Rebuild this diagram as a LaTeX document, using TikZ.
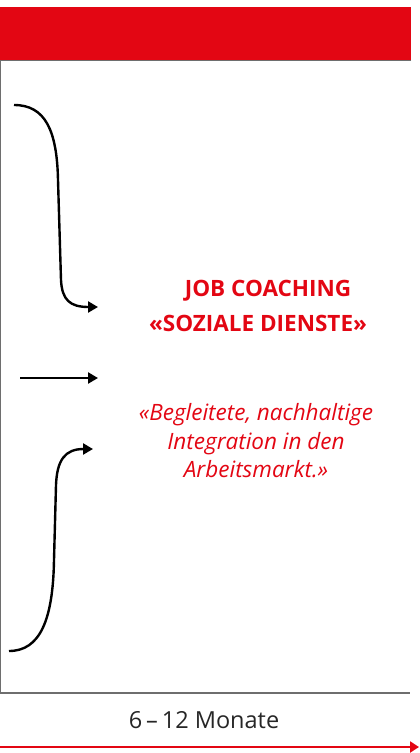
\documentclass[tikz,border=0pt]{standalone}
\usepackage{fontspec}
\setmainfont{Open Sans}
\usetikzlibrary{arrows.meta}
\definecolor{brandred}{HTML}{E30613}
\definecolor{framegray}{HTML}{6E6E6E}
\tikzset{
  flow/.style={line width=2.4pt,-{Triangle[length=10pt,width=11pt]}},
  frame/.style={draw=framegray,line width=1.2pt},
  titletext/.style={text=brandred,font=\fontsize{22.5}{35}\selectfont\bfseries,align=center},
  quotetext/.style={text=brandred,font=\fontsize{22.5}{28.5}\selectfont\itshape,align=center},
  durtext/.style={text=black!85,font=\fontsize{23.5}{26}\selectfont},
}
\begin{document}
\begin{tikzpicture}[x=1pt,y=-1pt]
\useasboundingbox (0,0) rectangle (420,753);
% header bar
\fill[brandred] (0,7) rectangle (411,60);
% frame
\draw[frame] (411,60.5) -- (0.6,60.5) -- (0.6,693) -- (410,693);
% named points
\coordinate (a1) at (14,105);
\coordinate (a1e) at (98,307);
\coordinate (m1) at (20,378);
\coordinate (m1e) at (98,378);
\coordinate (b1) at (9,651);
\coordinate (b1e) at (93,449);
% arrows
\draw[flow] (a1) .. controls (45,105) and (57,130) .. (58,180) -- (61,280) .. controls (62,300) and (70,307) .. (a1e);
\draw[flow] (m1) -- (m1e);
\draw[flow] (b1) .. controls (40,651) and (53,620) .. (54,560) -- (56,485) .. controls (57,460) and (65,449) .. (b1e);
% texts
\node[titletext] (title) at (258,306) {\hspace*{20pt}JOB COACHING\\«SOZIALE DIENSTE»};
\node[quotetext] (quote) at (256,441) {«Begleitete, nachhaltige\\Integration in den\\Arbeitsmarkt.»};
\node[durtext] (dur) at (204,720) {6\,–\,12 Monate};
% timeline
\coordinate (t0) at (0,747);
\coordinate (t1) at (419,747);
\draw[draw=brandred,line width=2.4pt,-{Triangle[length=9pt,width=11pt]}] (t0) -- (t1);
\end{tikzpicture}
\end{document}
